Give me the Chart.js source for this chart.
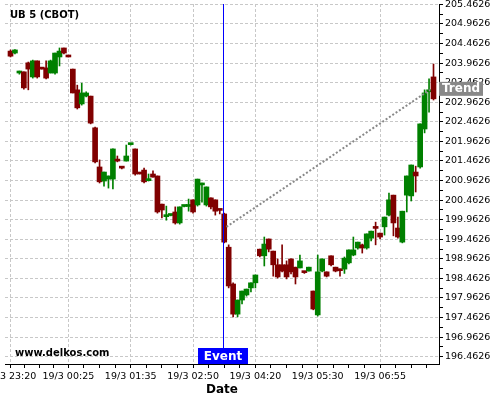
<!DOCTYPE html>
<html><head><meta charset="utf-8">
<script src="https://cdn.jsdelivr.net/npm/chart.js@4.4.1/dist/chart.umd.min.js"></script>
<style>html,body{margin:0;padding:0;background:#fff}#wrap{width:500px;height:400px;position:relative}</style>
</head><body><div id="wrap"><canvas id="c" width="500" height="400"></canvas></div>
<script>
const openP  = [204.27,204.22,203.71,203.74,203.97,203.61,204.02,203.84,203.84,203.71,203.71,204.12,204.35,204.14,203.81,203.28,202.92,203.12,203.12,202.31,
201.31,200.95,201.00,201.00,201.51,201.31,201.46,201.88,201.77,201.16,201.23,200.96,201.13,201.08,200.36,200.04,200.07,200.16,199.88,200.30,
200.30,200.47,200.34,200.85,200.34,200.52,200.47,200.21,200.11,199.26,198.32,197.55,197.91,198.04,198.22,198.35,199.21,199.04,199.47,199.16,
198.81,198.81,198.81,198.96,198.75,198.73,198.63,198.65,198.14,197.53,198.65,198.63,199.04,198.75,198.68,198.70,198.86,199.06,199.24,199.32,
199.24,199.49,199.75,199.62,199.78,200.08,200.59,199.75,199.39,200.59,200.57,201.18,201.31,202.28,203.23,203.61];
const highP  = [204.30,204.31,203.76,203.74,203.99,204.04,204.02,203.84,204.02,204.04,204.22,204.35,204.35,204.14,203.81,203.40,203.45,203.23,203.12,202.33,
201.49,201.18,201.08,201.77,201.59,201.31,201.87,201.90,201.77,201.16,201.28,201.13,201.21,201.08,200.36,200.31,200.08,200.29,200.29,200.31,
200.49,200.47,201.00,200.90,200.80,200.52,200.47,200.21,200.13,199.32,198.35,197.91,198.14,198.19,198.35,198.55,199.21,199.52,199.47,199.16,
198.96,199.32,198.91,198.96,198.75,199.06,198.63,198.75,198.14,199.06,198.96,198.63,199.04,198.75,198.70,199.01,199.19,199.52,199.39,199.34,
199.60,199.67,199.90,199.62,200.03,200.64,200.59,200.03,200.18,201.08,201.36,201.33,202.41,203.28,203.56,203.94];
const lowP   = [204.12,204.20,203.68,203.30,203.28,203.58,203.58,203.81,203.56,203.71,203.68,203.89,204.20,204.12,203.20,202.79,202.89,203.10,202.41,201.41,
200.90,200.82,200.77,200.75,201.44,201.26,201.46,201.87,201.10,201.13,200.90,200.95,201.05,200.13,200.01,199.95,200.06,199.85,199.85,200.29,
200.18,200.13,200.31,200.41,200.31,200.24,200.08,200.11,199.37,198.22,197.48,197.48,197.81,198.01,198.12,198.22,199.01,198.78,199.14,198.52,
198.47,198.63,198.45,198.58,198.32,198.73,198.59,198.65,197.66,197.50,198.63,198.50,198.78,198.63,198.52,198.59,198.83,199.04,199.21,199.11,
199.21,199.42,199.32,199.47,199.57,200.06,199.55,199.49,199.37,200.16,200.44,200.67,201.28,202.18,202.71,203.02];
const closeP = [204.14,204.30,203.76,203.33,203.81,204.02,203.61,203.81,203.58,204.02,204.22,204.27,204.22,204.12,203.20,202.82,203.20,203.20,202.43,201.44,
200.93,201.18,201.08,201.77,201.46,201.28,201.59,201.90,201.13,201.13,200.93,200.98,201.05,200.16,200.21,200.06,200.08,199.88,200.29,200.31,
200.31,200.16,201.00,200.90,200.80,200.29,200.18,200.20,199.39,198.27,197.55,197.91,198.14,198.19,198.35,198.55,199.04,199.34,199.21,198.81,
198.50,198.65,198.50,198.63,198.50,198.91,198.61,198.75,197.68,198.63,198.96,198.52,198.81,198.65,198.66,198.98,199.19,199.19,199.39,199.24,
199.60,199.67,199.74,199.52,200.03,200.47,199.88,199.52,200.18,201.08,201.36,201.08,202.41,203.20,203.25,203.05];

const xTickIdx    = [0, 13, 27, 41, 55, 69, 83];
const xTickLabels = ['19/3 23:20','19/3 00:25','19/3 01:35','19/3 02:50','19/3 04:20','19/3 05:30','19/3 06:55'];
const xMinorIdx   = [3.25,6.5,9.75,16.5,20,23.5,30.5,34,37.5,44.5,48,51.5,58.5,62,65.5,72.5,76,79.5,86.5,90,93.5];
const yTickVals   = [196.4626,196.9626,197.4626,197.9626,198.4626,198.9626,199.4626,199.9626,200.4626,200.9626,201.4626,201.9626,202.4626,202.9626,203.4626,203.9626,204.4626,204.9626,205.4626];
const yMinorVals  = [196.7126,197.2126,197.7126,198.2126,198.7126,199.2126,199.7126,200.2126,200.7126,201.2126,201.7126,202.2126,202.7126,203.2126,203.7126,204.2126,204.7126,205.2126];
const eventIdx = 47.8;
const trendX = [48.5, 94.2];
const trendY = [199.78, 203.28];
const chartTitle = 'UB 5 (CBOT)';
const watermark = 'www.delkos.com';
const xTitle = 'Date';

const UP = '#008000', DOWN = '#800000';
const idx = openP.map((_, i) => i);
const cols = idx.map(i => closeP[i] >= openP[i] ? UP : DOWN);

const overlay = {
  id: 'overlay',
  afterDraw(chart) {
    const {ctx, chartArea: a, scales: {x, y}} = chart;
    ctx.save();
    const ex = Math.round(x.getPixelForValue(eventIdx)) + 0.5;
    ctx.strokeStyle = '#0000ff'; ctx.lineWidth = 1;
    ctx.beginPath(); ctx.moveTo(ex, a.top); ctx.lineTo(ex, a.bottom); ctx.stroke();
    ctx.fillStyle = '#0000ff';
    ctx.fillRect(ex - 25.5, a.bottom - 16, 50, 16);
    ctx.fillStyle = '#ffffff'; ctx.font = 'bold 12px "DejaVu Sans"';
    ctx.textAlign = 'center'; ctx.textBaseline = 'middle';
    ctx.fillText('Event', ex - 0.5, a.bottom - 7.5);
    const ty = y.getPixelForValue(trendY[1]);
    ctx.fillStyle = '#888888';
    ctx.fillRect(a.right, ty - 8, 44, 14);
    ctx.fillStyle = '#ffffff';
    ctx.fillText('Trend', a.right + 22, ty - 1);
    ctx.fillStyle = '#000000'; ctx.textAlign = 'left';
    ctx.font = 'bold 10px "DejaVu Sans"';
    ctx.fillText(chartTitle, 10, 15.5);
    ctx.fillText(watermark, 15, 353.5);
    ctx.restore();
  }
};

new Chart(document.getElementById('c'), {
  type: 'bar',
  data: {
    datasets: [
      {
        type: 'line', order: 0,
        data: trendX.map((v, i) => ({x: v, y: trendY[i]})),
        borderColor: '#888888', borderWidth: 2, borderDash: [2, 2],
        pointRadius: 0, fill: false, tension: 0
      },
      {
        order: 1, grouped: false, barThickness: 5, minBarLength: 2,
        data: idx.map(i => ({x: i, y: [openP[i], closeP[i]]})),
        backgroundColor: cols, borderWidth: 0
      },
      {
        order: 2, grouped: false, barThickness: 1, minBarLength: 1,
        data: idx.map(i => ({x: i, y: [lowP[i], highP[i]]})),
        backgroundColor: cols, borderWidth: 0
      }
    ]
  },
  options: {
    responsive: false, animation: false, devicePixelRatio: 1,
    layout: {padding: {top: 4, left: 5, right: 0, bottom: 0}},
    plugins: {legend: {display: false}, tooltip: {enabled: false}},
    scales: {
      x: {
        type: 'linear', min: -1.235, max: 96.235, offset: false,
        afterBuildTicks: s => { s.ticks = xTickIdx.concat(xMinorIdx).sort((a, b) => a - b).map(v => ({value: v})); },
        afterFit: s => { s.height = 36; s.paddingLeft = 0; s.paddingRight = 0; },
        ticks: {
          autoSkip: false, maxRotation: 0, minRotation: 0, padding: 3, color: '#000',
          font: {family: 'DejaVu Sans', size: 9.5},
          callback: v => { const k = xTickIdx.indexOf(v); return k >= 0 ? xTickLabels[k] : ''; }
        },
        grid: {
          offset: false,
          color: c => (c.tick && xTickIdx.includes(c.tick.value)) ? '#c8c8c8' : 'rgba(0,0,0,0)',
          tickColor: '#000', tickLength: 4, lineWidth: 1
        },
        border: {display: true, color: '#000', width: 1, dash: [3, 2]},
        title: {display: true, text: xTitle, color: '#000', font: {family: 'DejaVu Sans', size: 12, weight: 'bold'}, padding: {top: 0, bottom: 3}}
      },
      y: {
        type: 'linear', position: 'right', min: 196.276, max: 205.473,
        afterBuildTicks: s => { s.ticks = yTickVals.concat(yMinorVals).sort((a, b) => a - b).map(v => ({value: v})); },
        afterFit: s => { s.width = 61; s.paddingTop = 0; s.paddingBottom = 0; },
        ticks: {
          autoSkip: false, padding: 2, color: '#000',
          font: {family: 'DejaVu Sans', size: 9.5},
          callback: v => yTickVals.includes(v) ? v.toFixed(4) : ''
        },
        grid: {
          color: c => (c.tick && yTickVals.includes(c.tick.value)) ? '#c8c8c8' : 'rgba(0,0,0,0)',
          tickColor: '#000', tickLength: 4, lineWidth: 1
        },
        border: {display: true, color: '#000', width: 1, dash: [3, 2]}
      }
    }
  },
  plugins: [overlay]
});
</script>
</body></html>
